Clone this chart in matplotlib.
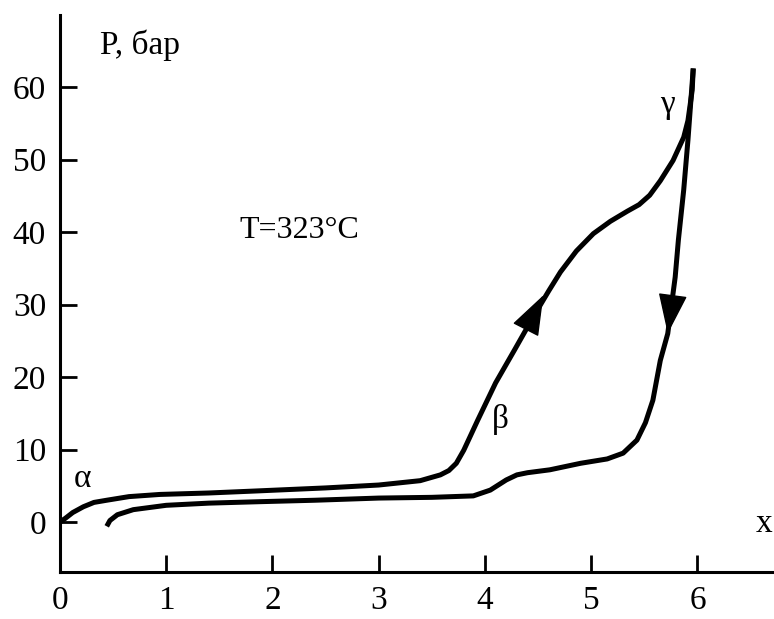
import matplotlib
matplotlib.use("Agg")
import matplotlib.pyplot as plt

# Data
x_up = [0.0, 0.05, 0.12, 0.22, 0.32, 0.44, 0.65, 0.94, 1.4, 1.88, 2.5, 3.0, 3.39, 3.58, 3.66, 3.73, 3.80, 3.93, 4.10,
        4.28, 4.45, 4.6, 4.71, 4.86, 5.02, 5.18, 5.34, 5.45, 5.55, 5.65, 5.77, 5.87, 5.91, 5.95, 5.96]
y_up = [0.0, 0.5, 1.3, 2.1, 2.7, 3.0, 3.5, 3.8, 4.0, 4.3, 4.7, 5.1, 5.7, 6.5, 7.1, 8.1, 9.9, 14.0, 19.2,
        23.8, 28.2, 31.9, 34.5, 37.4, 39.8, 41.5, 42.9, 43.8, 45.1, 47.1, 49.9, 53.1, 55.4, 59.6, 62.6]

x_dn = [5.96, 5.91, 5.87, 5.82, 5.79, 5.72, 5.65, 5.58, 5.51, 5.43, 5.30, 5.15, 4.90, 4.61, 4.40, 4.30, 4.20, 4.05,
        3.89, 3.5, 3.0, 2.4, 1.88, 1.4, 1.0, 0.69, 0.54, 0.47, 0.44]
y_dn = [62.6, 52.7, 45.8, 38.9, 33.8, 26.0, 22.3, 16.8, 13.7, 11.3, 9.5, 8.7, 8.1, 7.2, 6.8, 6.5, 5.8, 4.4,
        3.6, 3.4, 3.3, 3.0, 2.8, 2.6, 2.3, 1.7, 1.0, 0.2, -0.6]

x_ticks = [0, 1, 2, 3, 4, 5, 6]
y_ticks = [0, 10, 20, 30, 40, 50, 60]

plt.rcParams['font.family'] = ['Liberation Serif', 'DejaVu Serif']

fig = plt.figure(figsize=(7.74, 6.19), dpi=100)
ax = fig.add_axes([0.0775, 0.076, 0.9225, 0.9])
ax.set_xlim(0, 6.72)
ax.set_ylim(-6.9, 70)

lw = 3.6
ax.plot(x_up, y_up, color='black', lw=lw, solid_capstyle='butt', solid_joinstyle='round')
ax.plot(x_dn, y_dn, color='black', lw=lw, solid_capstyle='butt', solid_joinstyle='round')

# arrowheads along the curves
astyle = dict(arrowstyle='-|>,head_length=1.3,head_width=0.47', color='black', lw=1,
              mutation_scale=20, shrinkA=0, shrinkB=0)
ax.annotate('', xy=(x_up[21] - 0.05, y_up[21] - 0.6), xytext=(x_up[20] - 0.04, y_up[20] - 0.9), arrowprops=astyle)
ax.annotate('', xy=(x_dn[5], y_dn[5]), xytext=(x_dn[4], y_dn[4]), arrowprops=astyle)

for s in ['top', 'right']:
    ax.spines[s].set_visible(False)
for s in ['left', 'bottom']:
    ax.spines[s].set_linewidth(2.2)

ax.set_xticks(x_ticks)
ax.set_yticks(y_ticks)
ax.set_xticklabels([str(v) for v in x_ticks])
ax.set_yticklabels([str(v) for v in y_ticks])
ax.tick_params(direction='in', length=12, width=2, labelsize=24)
ax.tick_params(axis='y', pad=10)
ax.tick_params(axis='x', pad=10)

fs = 24
ax.text(0.38, 65.8, 'P, бар', fontsize=fs, ha='left', va='center')
ax.text(1.69, 40.3, 'T=323°C', fontsize=fs - 1, ha='left', va='center')
ax.text(0.21, 6.0, 'α', fontsize=fs, ha='center', va='center')
ax.text(4.14, 14.1, 'β', fontsize=fs, ha='center', va='center')
ax.text(5.72, 57.6, 'γ', fontsize=fs, ha='center', va='center')
ax.text(6.63, -0.3, 'x', fontsize=fs, ha='center', va='center')

fig.savefig('out.png', dpi=100)
